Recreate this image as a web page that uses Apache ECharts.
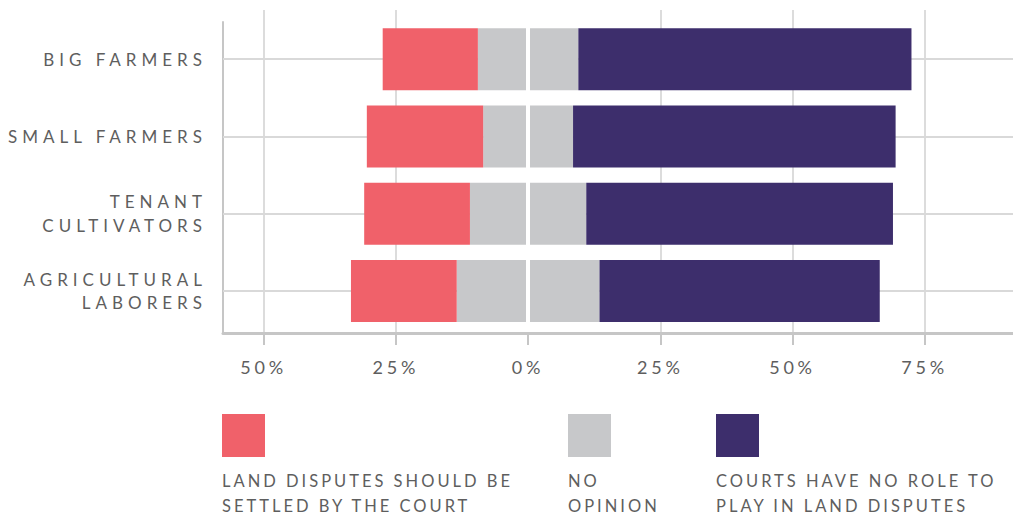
<!DOCTYPE html>
<html>
<head>
<meta charset="utf-8">
<script src="https://cdn.jsdelivr.net/npm/echarts@6/dist/echarts.min.js"></script>
<style>
  html, body { margin: 0; padding: 0; background: #fff; }
  #chart { width: 1013px; height: 516px; }
</style>
</head>
<body>
<div id="chart"></div>
<script>
// ---- data ----
const categories = ['BIG FARMERS', 'SMALL FARMERS', 'TENANT\nCULTIVATORS', 'AGRICULTURAL\nLABORERS'];
const courtShouldSettle = [18, 22, 20, 20];   // % (drawn to the left)
const noOpinion = [19, 17, 22, 27];           // % (split around zero)
const courtsNoRole = [63, 61, 58, 53];        // % (drawn to the right)
const tickValues = [-50, -25, 0, 25, 50, 75];
const legendNames = ['LAND DISPUTES SHOULD BE\nSETTLED BY THE COURT', 'NO\nOPINION', 'COURTS HAVE NO ROLE TO\nPLAY IN LAND DISPUTES'];

const RED = '#F0616A', GRAY = '#C7C8CA', PURPLE = '#3D2E6C';
const TEXT = '#5e5e5e';
const FONT = 'Lato';
const XMIN = -57.7, XMAX = 91.7;

const chart = echarts.init(document.getElementById('chart'), null, { renderer: 'svg' });

const option = {
  animation: false,
  backgroundColor: '#fff',
  grid: [
    { left: 223, right: 0, top: 20.5, height: 309 },   // bars
    { left: 223, right: 0, top: 10, bottom: 183 },     // x axis + vertical grid
    { left: 223, right: 0, top: 22, bottom: 183 }      // y axis line
  ],
  xAxis: [
    { gridIndex: 0, type: 'value', min: XMIN, max: XMAX, show: false },
    {
      gridIndex: 1, type: 'value', min: XMIN, max: XMAX,
      axisLine: { show: true, onZero: false, lineStyle: { color: '#c6c6c6', width: 3 } },
      axisTick: { show: true, customValues: tickValues, length: 12, lineStyle: { color: '#c6c6c6', width: 2 } },
      axisLabel: {
        show: true, customValues: tickValues, margin: 25,
        fontFamily: FONT, fontSize: 18, color: TEXT,
        formatter: v => Math.abs(v) + '%'
      },
      splitLine: { show: true, lineStyle: { color: ['#dcdcdc', '#dcdcdc', '#ffffff', '#dcdcdc', '#dcdcdc', '#dcdcdc'], width: 2 } }
    },
    { gridIndex: 2, type: 'value', min: XMIN, max: XMAX, show: false }
  ],
  yAxis: [
    {
      gridIndex: 0, type: 'category', data: categories, inverse: true,
      axisLine: { show: false }, axisTick: { show: false }, splitLine: { show: false },
      axisLabel: { fontFamily: FONT, fontSize: 17, color: TEXT, margin: 16, lineHeight: 23.5, align: 'right' }
    },
    { gridIndex: 1, type: 'category', data: categories, show: false },
    {
      gridIndex: 2, type: 'category', data: categories,
      axisLine: { show: true, onZero: false, lineStyle: { color: '#c6c6c6', width: 2 } },
      axisTick: { show: false }, axisLabel: { show: false }, splitLine: { show: false }
    }
  ],
  series: [
    {
      name: 'no opinion (left half)', type: 'bar', stack: 'total', xAxisIndex: 0, yAxisIndex: 0,
      barWidth: 62, itemStyle: { color: GRAY },
      data: noOpinion.map(v => -v / 2),
      markLine: {
        z: 1, silent: true, symbol: 'none', label: { show: false },
        lineStyle: { color: '#d9d9d9', width: 2, type: 'solid' },
        data: categories.map(c => ({ yAxis: c }))
      }
    },
    {
      name: 'no opinion (right half)', type: 'bar', stack: 'total', xAxisIndex: 0, yAxisIndex: 0,
      barWidth: 62, itemStyle: { color: GRAY },
      data: noOpinion.map(v => v / 2)
    },
    {
      name: legendNames[2], type: 'bar', stack: 'total', xAxisIndex: 0, yAxisIndex: 0,
      barWidth: 62, itemStyle: { color: PURPLE },
      data: courtsNoRole,
      markLine: {
        z: 20, silent: true, symbol: 'none', label: { show: false },
        lineStyle: { color: '#ffffff', width: 4, type: 'solid' },
        data: [{ xAxis: 0 }]
      }
    },
    {
      name: legendNames[0], type: 'bar', stack: 'total', xAxisIndex: 0, yAxisIndex: 0,
      barWidth: 62, itemStyle: { color: RED },
      data: courtShouldSettle.map(v => -v)
    }
  ],
  graphic: [
    { type: 'rect', shape: { x: 222, y: 414, width: 43, height: 43 }, style: { fill: RED } },
    { type: 'rect', shape: { x: 568, y: 414, width: 43, height: 43 }, style: { fill: GRAY } },
    { type: 'rect', shape: { x: 716, y: 414, width: 43, height: 43 }, style: { fill: PURPLE } },
    { type: 'text', x: 222, y: 468.8, style: { text: legendNames[0], fontFamily: FONT, fontSize: 16.5, lineHeight: 25, fill: TEXT, verticalAlign: 'top', align: 'left' } },
    { type: 'text', x: 568, y: 468.8, style: { text: legendNames[1], fontFamily: FONT, fontSize: 16.5, lineHeight: 25, fill: TEXT, verticalAlign: 'top', align: 'left' } },
    { type: 'text', x: 716, y: 468.8, style: { text: legendNames[2], fontFamily: FONT, fontSize: 16.5, lineHeight: 25, fill: TEXT, verticalAlign: 'top', align: 'left' } }
  ]
};

chart.setOption(option);

// letter spacing (tracking) like the reference typography
function applySpacing() {
  document.querySelectorAll('#chart svg text').forEach(t => {
    const fs = parseFloat(getComputedStyle(t).fontSize);
    let ls = 0;
    if (Math.abs(fs - 17) < 0.2) ls = 5;
    else if (Math.abs(fs - 18) < 0.2) ls = 3.8;
    else if (Math.abs(fs - 16.5) < 0.2) ls = 3.0;
    t.style.letterSpacing = ls + 'px';
  });
}
applySpacing();
chart.on('finished', applySpacing);
</script>
</body>
</html>
